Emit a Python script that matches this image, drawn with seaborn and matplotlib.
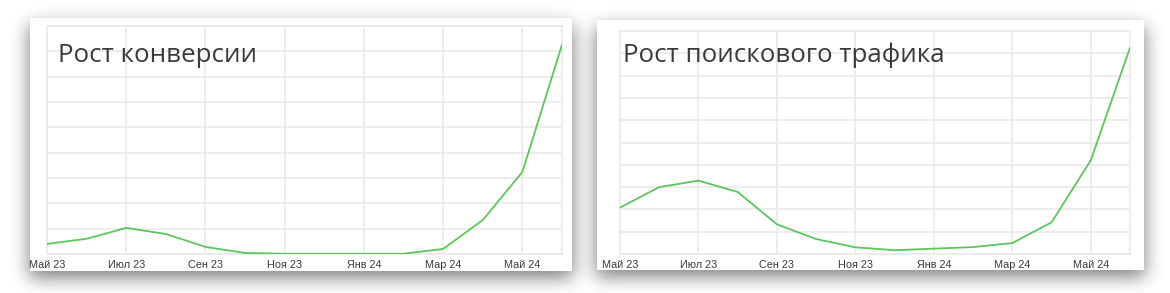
import numpy as np
import matplotlib
matplotlib.use("Agg")
import matplotlib.pyplot as plt
from matplotlib.patches import Rectangle
import seaborn as sns

# ---- data ----
months = ["Май 23", "Июн 23", "Июл 23", "Авг 23", "Сен 23", "Окт 23", "Ноя 23",
          "Дек 23", "Янв 24", "Фев 24", "Мар 24", "Апр 24", "Май 24", "Июн 24"]
tick_labels = ["Май 23", "Июл 23", "Сен 23", "Ноя 23", "Янв 24", "Мар 24", "Май 24"]
conversion = [0.40, 0.60, 1.03, 0.79, 0.28, 0.04, 0.01, 0.01, 0.01, 0.01, 0.20, 1.34, 3.24, 8.26]
traffic = [2.08, 3.00, 3.29, 2.78, 1.33, 0.67, 0.30, 0.17, 0.24, 0.31, 0.49, 1.42, 4.20, 9.25]
titles = ["Рост конверсии", "Рост поискового трафика"]

sns.set_theme(style="white")
plt.rcParams["font.family"] = ["Liberation Sans", "DejaVu Sans"]

W, H = 1170, 293
fig = plt.figure(figsize=(W / 100, H / 100), dpi=100)
fig.patch.set_facecolor("white")

# background axes in pixel coordinates
bg = fig.add_axes([0, 0, 1, 1])
bg.set_xlim(0, W)
bg.set_ylim(H, 0)
bg.axis("off")

cards = [(30, 18, 572, 271), (597, 20, 1144, 270)]

# soft drop shadow
mask = np.zeros((H, W))
dy = 7
for x0, y0, x1, y1 in cards:
    mask[y0 + dy:y1 + dy, x0 - 1:x1 + 1] = 1.0
sig = 9.0
k = np.arange(-3 * int(sig), 3 * int(sig) + 1)
ker = np.exp(-k ** 2 / (2 * sig ** 2))
ker /= ker.sum()
pad = len(k)
m = np.pad(mask, pad)
m = np.apply_along_axis(lambda r: np.convolve(r, ker, mode="same"), 1, m)
m = np.apply_along_axis(lambda c: np.convolve(c, ker, mode="same"), 0, m)
m = m[pad:-pad, pad:-pad]
img = np.zeros((H, W, 4))
img[..., 3] = np.clip(m * 0.5, 0, 1)
bg.imshow(img, extent=(0, W, H, 0), interpolation="bilinear", zorder=0)
for x0, y0, x1, y1 in cards:
    bg.add_patch(Rectangle((x0, y0), x1 - x0, y1 - y0, facecolor="white",
                           edgecolor="none", zorder=1))

# chart axes (pixel boxes: left, top, right, bottom)
boxes = [(47, 26, 562, 254), (620, 31, 1130, 254)]
ylims = [9, 10]
series = [conversion, traffic]
title_pos = [(58, 62), (623, 62)]

grid_c = "#eaeaea"
line_c = "#5cc65c"
x_idx = np.arange(len(months))

for (l, t, r, b), ymax, vals, title, (tx, ty) in zip(boxes, ylims, series, titles, title_pos):
    ax = fig.add_axes([l / W, (H - b) / H, (r - l) / W, (b - t) / H])
    ax.set_facecolor("none")
    sns.lineplot(x=x_idx, y=vals, ax=ax, color=line_c, linewidth=1.3, zorder=3)
    ax.set_xlim(0, len(months) - 1)
    ax.set_ylim(0, ymax)
    ax.set_xticks([months.index(m_) for m_ in tick_labels])
    ax.set_xticklabels(tick_labels, fontsize=7.8, color="#3a3a3a")
    ax.set_yticks(np.arange(0, ymax + 1))
    ax.set_yticklabels([])
    ax.tick_params(axis="both", length=0, pad=4)
    ax.grid(True, color=grid_c, linewidth=1.2, zorder=0)
    ax.set_axisbelow(True)
    for s in ax.spines.values():
        s.set_color(grid_c)
        s.set_linewidth(1.2)
    ax.set_xlabel("")
    ax.set_ylabel("")
    ax.text(tx, ty, title, transform=bg.transData, fontsize=18.6,
            family=["Open Sans", "DejaVu Sans"], color="#3a3a3a",
            va="baseline", ha="left", zorder=5)

fig.savefig("out.png", dpi=100, facecolor="white")
